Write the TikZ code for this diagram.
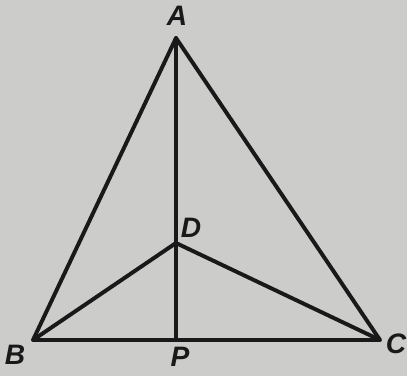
\documentclass[tikz,border=0pt]{standalone}
\usepackage{fontspec}
\setsansfont{Liberation Sans}
\usepackage{tikz}
\usepackage{xcolor}
\definecolor{paper}{RGB}{204,204,202}
\definecolor{ink}{RGB}{25,25,25}

\begin{document}
\begin{tikzpicture}[x=0.025cm, y=0.025cm,
    side/.style={ink, line width=2.8pt, line join=round, line cap=round},
    lbl/.style={ink, font=\sffamily\bfseries\itshape\fontsize{20}{20}\selectfont, inner sep=0pt}]
  \fill[paper] (0,0) rectangle (407,376);
  \useasboundingbox (0,0) rectangle (407,376);

  \coordinate (A) at (176,338);
  \coordinate (B) at (33,36);
  \coordinate (C) at (380,36);
  \coordinate (P) at (176,36);
  \coordinate (D) at (176,133);

  \draw[side] (A) -- (B) -- (C) -- cycle;
  \draw[side] (A) -- (P);
  \draw[side] (B) -- (D) -- (C);

  \node[lbl] (lA) at (177,360) {A};
  \node[lbl] (lB) at (15,21) {B};
  \node[lbl] (lC) at (396,32) {C};
  \node[lbl] (lP) at (180,19) {P};
  \node[lbl] (lD) at (191,148) {D};
\end{tikzpicture}
\end{document}
